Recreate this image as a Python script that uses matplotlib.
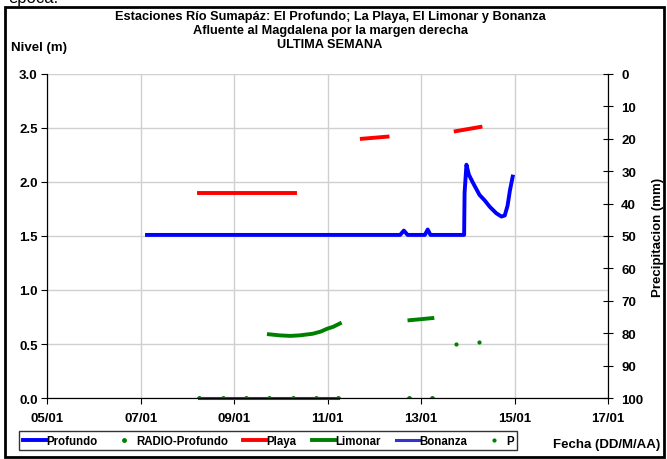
import matplotlib
matplotlib.use('Agg')
import matplotlib.pyplot as plt
from matplotlib.patches import Rectangle
from matplotlib.lines import Line2D

plt.rcParams['font.family'] = ['Liberation Sans', 'DejaVu Sans']
plt.rcParams['font.weight'] = 'bold'

# days of January 2015 (fractional)
prof_x = [7.13, 12.55, 12.63, 12.71, 13.08, 13.14, 13.20, 13.92, 13.93, 13.97, 14.02, 14.10,
          14.25, 14.36, 14.47, 14.61, 14.72, 14.79, 14.85, 14.90, 14.96]
prof_y = [1.51, 1.51, 1.55, 1.51, 1.51, 1.56, 1.51, 1.51, 1.90, 2.16, 2.07, 2.00,
          1.88, 1.83, 1.77, 1.71, 1.68, 1.69, 1.78, 1.92, 2.05]

radio_x = [8.24, 8.75, 9.25, 9.74, 10.25, 10.74, 11.23, 12.75, 13.24]
radio_y = [0.0, 0.0, 0.0, 0.0, 0.0, 0.0, 0.0, 0.0, 0.0]

playa_segs = [([8.24, 10.30], [1.90, 1.90]),
              ([11.73, 12.28], [2.40, 2.42]),
              ([13.74, 14.27], [2.47, 2.51])]

limonar_segs = [([9.74, 9.97, 10.20, 10.40, 10.68, 10.85, 10.98, 11.12, 11.26],
                 [0.59, 0.58, 0.575, 0.58, 0.595, 0.615, 0.64, 0.66, 0.69]),
                ([12.75, 13.0, 13.24], [0.72, 0.73, 0.74])]

bonanza_x = [8.24, 11.23]
bonanza_y = [0.0, 0.0]

p_x = [13.74, 14.23]
p_y = [83.3, 82.7]

xticks = [5, 7, 9, 11, 13, 15, 17]
xlabels = ['05/01', '07/01', '09/01', '11/01', '13/01', '15/01', '17/01']

fig = plt.figure(figsize=(6.67, 4.6), dpi=100)
ax = fig.add_axes([0.0712, 0.1326, 0.8403, 0.7044])

ax.plot(prof_x, prof_y, color='#0000FF', lw=2.8, zorder=4)
ax.plot(radio_x, radio_y, '.', color='#008000', ms=5, zorder=5)
for xs, ys in playa_segs:
    ax.plot(xs, ys, color='#FF0000', lw=2.8, zorder=4)
for xs, ys in limonar_segs:
    ax.plot(xs, ys, color='#008000', lw=2.8, zorder=4)
ax.plot(bonanza_x, bonanza_y, color='#3333CC', lw=2.2, zorder=4, clip_on=False)

ax.set_xlim(5, 17)
ax.set_ylim(0, 3.0)
ax.set_xticks(xticks)
ax.set_xticklabels(xlabels)
ax.set_yticks([0, 0.5, 1.0, 1.5, 2.0, 2.5, 3.0])
ax.set_yticklabels(['0.0', '0.5', '1.0', '1.5', '2.0', '2.5', '3.0'])
ax.grid(True, color='#D0D0D0', lw=1.0)
ax.set_axisbelow(True)
ax.spines['top'].set_visible(False)
for s in ['left', 'bottom', 'right']:
    ax.spines[s].set_color('black')
ax.tick_params(axis='both', labelsize=9.5, length=4, color='black')
ax.tick_params(axis='x', direction='out', pad=6)
ax.tick_params(axis='y', direction='out', pad=3)

ax2 = ax.twinx()
ax2.plot(p_x, p_y, '.', color='#008000', ms=4)
ax2.set_ylim(100, 0)
ax2.set_yticks(range(0, 101, 10))
ax2.tick_params(axis='y', labelsize=9.5, direction='inout', length=7, pad=6)
ax2.spines['top'].set_visible(False)
ax2.set_ylabel('Precipitacion (mm)', fontsize=9.5, fontweight='bold', labelpad=6)

fig.text(0.495, 0.962, 'Estaciones Río Sumapáz: El Profundo; La Playa, El Limonar y Bonanza',
         ha='center', va='center', fontsize=9.2, fontweight='bold')
fig.text(0.495, 0.932, 'Afluente al Magdalena por la margen derecha',
         ha='center', va='center', fontsize=9.2, fontweight='bold')
fig.text(0.495, 0.902, 'ULTIMA SEMANA',
         ha='center', va='center', fontsize=9.2, fontweight='bold')
fig.text(0.016, 0.895, 'Nivel (m)', ha='left', va='center', fontsize=9.5, fontweight='bold')
fig.text(0.99, 0.032, 'Fecha (DD/M/AA)', ha='right', va='center', fontsize=9.5, fontweight='bold')
fig.text(0.012, 0.9935, 'época.', ha='left', va='baseline', fontsize=12, fontweight='normal')

fig.patches.append(Rectangle((0.007, 0.004), 0.988, 0.978, transform=fig.transFigure,
                             fill=False, edgecolor='black', lw=2.0))

handles = [Line2D([], [], color='#0000FF', lw=2.8),
           Line2D([], [], ls='none', marker='.', color='#008000', ms=5),
           Line2D([], [], color='#FF0000', lw=2.8),
           Line2D([], [], color='#008000', lw=2.8),
           Line2D([], [], color='#3333CC', lw=2.2),
           Line2D([], [], ls='none', marker='.', color='#008000', ms=4)]
names = ['Profundo', 'RADIO-Profundo', 'Playa', 'Limonar', 'Bonanza', 'P']
leg = fig.legend(handles, names, loc='center left', bbox_to_anchor=(0.02, 0.04), ncol=6,
                 fontsize=8.3, frameon=True, fancybox=False, edgecolor='black',
                 handlelength=2.0, handletextpad=0.05, columnspacing=1.3, borderpad=0.3)
leg.get_frame().set_linewidth(1.0)

fig.savefig('out.png', dpi=100)
